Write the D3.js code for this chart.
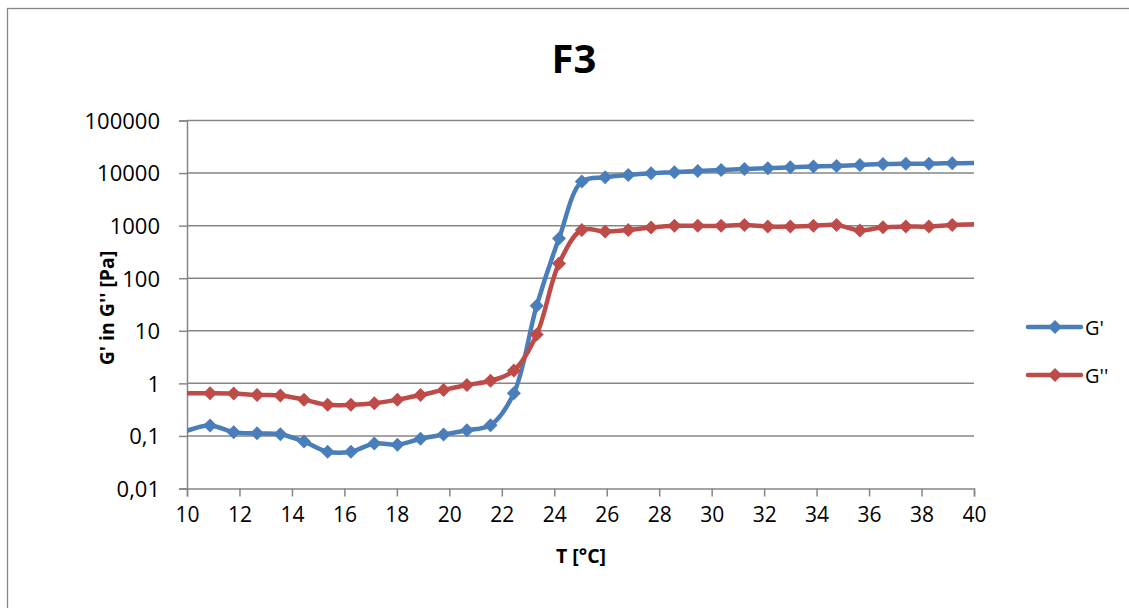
<!DOCTYPE html>
<html>
<head>
<meta charset="utf-8">
<script src="https://cdn.jsdelivr.net/npm/d3@7"></script>
<style>
    body { margin: 0; background: #ffffff; }
    text { font-family: "Open Sans", "Liberation Sans", sans-serif; fill: #000; }
</style>
</head>
<body>
<div id="chart"></div>
<script>

/**
 * DATA
 */
const temperature = [9.99, 10.88, 11.78, 12.67, 13.56, 14.46, 15.36, 16.25, 17.14, 18.02,
    18.90, 19.78, 20.67, 21.57, 22.46, 23.33, 24.18, 25.05, 25.94, 26.82,
    27.69, 28.58, 29.47, 30.36, 31.25, 32.14, 33.00, 33.88, 34.76, 35.65,
    36.53, 37.40, 38.28, 39.17, 40.06];

const gStorage = [0.125, 0.158, 0.118, 0.112, 0.108, 0.078, 0.050, 0.050, 0.072, 0.068,
    0.088, 0.106, 0.128, 0.160, 0.65, 30, 570, 6900, 8300, 9200,
    9900, 10400, 11000, 11500, 11900, 12400, 12900, 13300, 13700, 14300,
    14800, 15000, 15100, 15400, 15500];

const gLoss = [0.65, 0.65, 0.64, 0.60, 0.59, 0.49, 0.39, 0.39, 0.42, 0.49,
    0.60, 0.75, 0.93, 1.12, 1.75, 8.5, 190, 830, 770, 830,
    920, 990, 990, 990, 1030, 960, 960, 990, 1030, 810,
    930, 960, 960, 1030, 1060];

const xTicks = [10, 12, 14, 16, 18, 20, 22, 24, 26, 28, 30, 32, 34, 36, 38, 40];
const yTicks = [0.01, 0.1, 1, 10, 100, 1000, 10000, 100000];
const yTickLabels = ["0,01", "0,1", "1", "10", "100", "1000", "10000", "100000"];

const seriesNames = ["G'", "G''"];
const seriesColors = ["#4a7ebb", "#be4b48"];

/**
 * MACROS
 */
WIDTH = 1129;
HEIGHT = 608;
GRID = "#868686";

window.onload = start;

/**
 * Build a diamond path centered on 0,0
 * @param {number} r half diagonal
 */
function diamond(r){
    return "M0," + (-r) + "L" + r + ",0L0," + r + "L" + (-r) + ",0Z";
}

function start(){

    let svg = d3.select("#chart")
    .append("svg")
    .attr("width", WIDTH)
    .attr("height", HEIGHT);

    // chart frame (only left and top edges fall inside the picture)
    svg.append("rect")
    .attr("x", 7.5).attr("y", 8.5)
    .attr("width", 1140).attr("height", 620)
    .attr("fill", "#fff")
    .attr("stroke", GRID)
    .attr("stroke-width", 1.3);

    let x = d3.scaleLinear().domain([10, 40]).range([187, 974]);
    let y = d3.scaleLog().domain([0.01, 100000]).range([488.5, 120.5]);

    // horizontal gridlines
    svg.append("g")
    .selectAll("line")
    .data(yTicks.slice(1))
    .join("line")
    .attr("x1", x(10)).attr("x2", x(40))
    .attr("y1", d => y(d)).attr("y2", d => y(d))
    .attr("stroke", GRID)
    .attr("stroke-width", 1.5);

    // y axis
    let yAxis = d3.axisLeft(y)
    .tickValues(yTicks)
    .tickFormat((d, i) => yTickLabels[i])
    .tickSize(8)
    .tickPadding(19);

    svg.append("g")
    .attr("transform", "translate(" + x(10) + ",0)")
    .call(yAxis)
    .call(g => g.select(".domain").attr("stroke", GRID).attr("stroke-width", 1.5))
    .call(g => g.selectAll(".tick line").attr("stroke", GRID).attr("stroke-width", 1.5))
    .call(g => g.selectAll(".tick text")
        .style("font-size", "22px")
        .attr("font-family", null)
        .attr("dy", "0.36em"));

    // x axis
    let xAxis = d3.axisBottom(x)
    .tickValues(xTicks)
    .tickSize(8)
    .tickPadding(11);

    svg.append("g")
    .attr("transform", "translate(0," + y(0.01) + ")")
    .call(xAxis)
    .call(g => g.select(".domain").attr("stroke", GRID).attr("stroke-width", 1.5))
    .call(g => g.selectAll(".tick line").attr("stroke", GRID).attr("stroke-width", 1.5))
    .call(g => g.selectAll(".tick text")
        .style("font-size", "21px")
        .attr("font-family", null));

    // clip for the curves
    svg.append("clipPath")
    .attr("id", "plot_clip")
    .append("rect")
    .attr("x", x(10)).attr("y", y(100000) - 10)
    .attr("width", x(40) - x(10)).attr("height", y(0.01) - y(100000) + 10);

    let series = [gStorage, gLoss];

    let line = d3.line()
    .x(d => x(d[0]))
    .y(d => y(d[1]))
    .curve(d3.curveCatmullRom.alpha(0.5));

    series.forEach(function(values, s){
        let points = temperature.map((t, i) => [t, values[i]]);

        let layer = svg.append("g").attr("clip-path", "url(#plot_clip)");

        layer.append("path")
        .datum(points)
        .attr("d", line)
        .attr("fill", "none")
        .attr("stroke", seriesColors[s])
        .attr("stroke-width", 4.5)
        .attr("stroke-linejoin", "round");

        // markers only for points inside the axis range
        layer.selectAll("path.marker")
        .data(points.filter(p => p[0] >= 10 && p[0] <= 40))
        .join("path")
        .attr("class", "marker")
        .attr("d", diamond(7))
        .attr("transform", p => "translate(" + x(p[0]) + "," + y(p[1]) + ")")
        .attr("fill", seriesColors[s]);
    });

    // title
    svg.append("text")
    .attr("x", 574).attr("y", 73)
    .attr("text-anchor", "middle")
    .style("font-size", "40px")
    .style("font-weight", "bold")
    .text("F3");

    // axis titles
    svg.append("text")
    .attr("x", 581).attr("y", 563)
    .attr("text-anchor", "middle")
    .style("font-size", "19.5px")
    .style("font-weight", "bold")
    .text("T [°C]");

    svg.append("text")
    .attr("transform", "translate(114,308) rotate(-90)")
    .attr("text-anchor", "middle")
    .style("font-size", "19.5px")
    .style("font-weight", "bold")
    .text("G' in  G'' [Pa]");

    // legend
    let legend = svg.append("g");
    seriesNames.forEach(function(name, s){
        let ly = 327 + s * 48;
        legend.append("line")
        .attr("x1", 1028).attr("x2", 1081)
        .attr("y1", ly).attr("y2", ly)
        .attr("stroke", seriesColors[s])
        .attr("stroke-width", 4.5)
        .attr("stroke-linecap", "round");
        legend.append("path")
        .attr("d", diamond(7))
        .attr("transform", "translate(1055," + ly + ")")
        .attr("fill", seriesColors[s]);
        legend.append("text")
        .attr("x", 1085).attr("y", ly + 7.5)
        .style("font-size", "20px")
        .text(name);
    });
}
</script>
</body>
</html>
